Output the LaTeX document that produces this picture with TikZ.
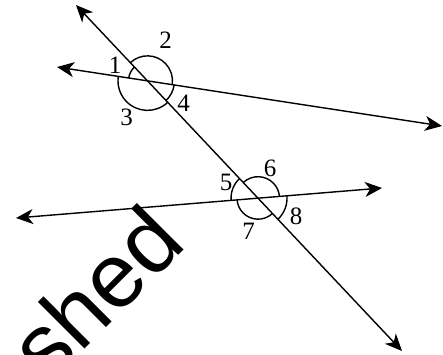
\documentclass[tikz,border=0pt]{standalone}
\usepackage{fontspec}
\setmainfont{Liberation Serif}
\newfontfamily\wmfont{Liberation Sans}
\usetikzlibrary{arrows.meta}
\begin{document}
\begin{tikzpicture}[x=1pt,y=-1pt,
  ln/.style={line width=1.4pt, {Stealth[length=17pt,width=15pt,inset=5pt]}-{Stealth[length=17pt,width=15pt,inset=5pt]}},
  ang/.style={line width=1.4pt},
  lbl/.style={inner sep=0pt, font=\fontsize{25}{25}\selectfont}]
\useasboundingbox (0,0) rectangle (443,354);
\clip (0,0) rectangle (443,354);
% watermark
\node[inner sep=0pt, anchor=base east, rotate=45, font=\wmfont\fontsize{91}{91}\selectfont] (wm) at (188,246) {shed};
% end points
\coordinate (ta) at (76,5);  \coordinate (tb) at (402,351);
\coordinate (aa) at (57,67); \coordinate (ab) at (442,126);
\coordinate (ba) at (16,218); \coordinate (bb) at (382,188);
\draw[ln] (ta) -- (tb);
\draw[ln] (aa) -- (ab);
\draw[ln] (ba) -- (bb);
\coordinate (P1) at (intersection of ta--tb and aa--ab);
\coordinate (P2) at (intersection of ta--tb and ba--bb);
% angle arcs at P1
\draw[ang] ([shift={(188.7:19)}]P1) arc[start angle=188.7, end angle=226.7, radius=19];
\draw[ang] ([shift={(226.7:25)}]P1) arc[start angle=226.7, end angle=368.7, radius=25];
\draw[ang] ([shift={(8.7:27)}]P1) arc[start angle=8.7, end angle=46.7, radius=27];
\draw[ang] ([shift={(46.7:29.5)}]P1) arc[start angle=46.7, end angle=188.7, radius=29.5];
% angle arcs at P2
\draw[ang] ([shift={(175.3:27)}]P2) arc[start angle=175.3, end angle=226.7, radius=27];
\draw[ang] ([shift={(226.7:21.5)}]P2) arc[start angle=226.7, end angle=355.3, radius=21.5];
\draw[ang] ([shift={(-4.7:29)}]P2) arc[start angle=-4.7, end angle=46.7, radius=29];
\draw[ang] ([shift={(46.7:21)}]P2) arc[start angle=46.7, end angle=175.3, radius=21];
% labels
\node[lbl] (l1) at (115,65.5) {1};
\node[lbl] (l2) at (165.7,40.5) {2};
\node[lbl] (l3) at (126.5,117.5) {3};
\node[lbl] (l4) at (183.5,103.3) {4};
\node[lbl] (l5) at (226,182.5) {5};
\node[lbl] (l6) at (270,168) {6};
\node[lbl] (l7) at (248.5,231) {7};
\node[lbl] (l8) at (296,216.7) {8};
\end{tikzpicture}
\end{document}
